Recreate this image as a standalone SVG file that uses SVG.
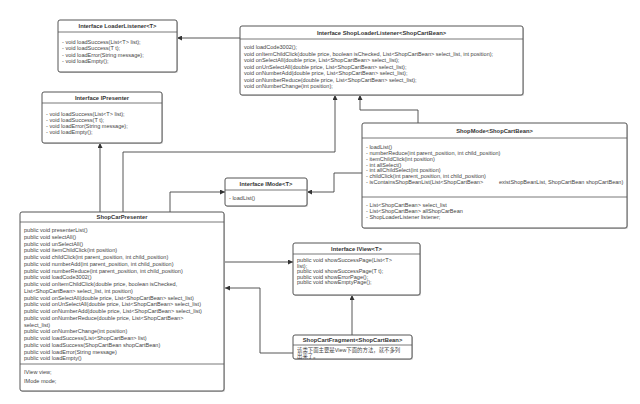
<svg xmlns="http://www.w3.org/2000/svg" width="640" height="404" viewBox="0 0 640 404">
<style>
.box{fill:#fff;stroke:#555;stroke-width:1}
.sh{fill:#ccc}
.div{stroke:#555;stroke-width:0.8}
.h{font-family:"Liberation Sans","Noto Sans CJK SC",sans-serif;font-size:5.8px;font-weight:bold;fill:#333;text-anchor:middle}
.t{font-family:"Liberation Sans","Noto Sans CJK SC",sans-serif;font-size:5.55px;fill:#444}
.c{fill:none;stroke:#444;stroke-width:0.9}
</style>
<defs>
<marker id="ar" viewBox="0 0 10 10" refX="10" refY="5" markerWidth="5" markerHeight="5" orient="auto" markerUnits="userSpaceOnUse">
<path d="M0,0 L10,5 L0,10 z" fill="#333"/>
</marker>
</defs>
<rect width="640" height="404" fill="#fff"/>

<g id="connectors">
<path class="c" d="M240,38 H177" marker-end="url(#ar)"/>
<path class="c" d="M100,212 V143" marker-end="url(#ar)"/>
<path class="c" d="M123,212 V152 H335 V95" marker-end="url(#ar)"/>
<path class="c" d="M418,123 V110 H360 V95" marker-end="url(#ar)"/>
<path class="c" d="M170,212 V192 H225" marker-end="url(#ar)"/>
<path class="c" d="M362,173 H334 V192 H307" marker-end="url(#ar)"/>
<path class="c" d="M224,262 H293" marker-end="url(#ar)"/>
<path class="c" d="M352,335 V295" marker-end="url(#ar)"/>
<path class="c" d="M293,353 H260 V288 H225" marker-end="url(#ar)"/>
</g>

<g id="LoaderListener">
<rect class="sh" x="59" y="21" width="119" height="52" rx="2"/>
<rect class="box" x="58" y="20" width="119" height="52" rx="2"/>
<line class="div" x1="58" y1="32" x2="177" y2="32"/>
<text class="h" x="117.5" y="28">Interface LoaderListener&lt;T&gt;</text>
<text class="t" x="62" y="44">- void loadSuccess(List&lt;T&gt; list);</text>
<text class="t" x="62" y="50.3">- void loadSuccess(T t);</text>
<text class="t" x="62" y="56.6">- void loadError(String message);</text>
<text class="t" x="62" y="63">- void loadEmpty();</text>
</g>

<g id="ShopLoaderListener">
<rect class="sh" x="241" y="27" width="283" height="69" rx="2"/>
<rect class="box" x="240" y="26" width="283" height="69" rx="2"/>
<line class="div" x1="240" y1="39" x2="523" y2="39"/>
<text class="h" x="381.5" y="34.5">Interface ShopLoaderListener&lt;ShopCartBean&gt;</text>
<text class="t" x="244" y="49">void loadCode3002();</text>
<text class="t" x="244" y="55.5">void onItemChildClick(double price, boolean isChecked, List&lt;ShopCartBean&gt; select_list, int position);</text>
<text class="t" x="244" y="62">void onSelectAll(double price, List&lt;ShopCartBean&gt; select_list);</text>
<text class="t" x="244" y="68.5">void onUnSelectAll(double price, List&lt;ShopCartBean&gt; select_list);</text>
<text class="t" x="244" y="75">void onNumberAdd(double price, List&lt;ShopCartBean&gt; select_list);</text>
<text class="t" x="244" y="81.5">void onNumberReduce(double price, List&lt;ShopCartBean&gt; select_list);</text>
<text class="t" x="244" y="88">void onNumberChange(int position);</text>
</g>

<g id="IPresenter">
<rect class="sh" x="43" y="93" width="120" height="51" rx="2"/>
<rect class="box" x="42" y="92" width="120" height="51" rx="2"/>
<line class="div" x1="42" y1="103" x2="162" y2="103"/>
<text class="h" x="102" y="99.5">Interface IPresenter</text>
<text class="t" x="46" y="116">- void loadSuccess(List&lt;T&gt; list);</text>
<text class="t" x="46" y="122">- void loadSuccess(T t);</text>
<text class="t" x="46" y="128">- void loadError(String message);</text>
<text class="t" x="46" y="134">- void loadEmpty();</text>
</g>

<g id="ShopMode">
<rect class="sh" x="363" y="124" width="265" height="105" rx="2"/>
<rect class="box" x="362" y="123" width="265" height="105" rx="2"/>
<line class="div" x1="362" y1="138" x2="627" y2="138"/>
<line class="div" x1="362" y1="197" x2="627" y2="197"/>
<text class="h" x="494.5" y="132.5">ShopMode&lt;ShopCartBean&gt;</text>
<text class="t" x="366" y="149">- loadList()</text>
<text class="t" x="366" y="155">- numberReduce(int parent_position, int child_position)</text>
<text class="t" x="366" y="160.8">- itemChildClick(int position)</text>
<text class="t" x="366" y="166.6">- int allSelect()</text>
<text class="t" x="366" y="172.4">- int allChildSelect(int position)</text>
<text class="t" x="366" y="178.2">- childClick(int parent_position, int child_position)</text>
<text class="t" x="366" y="184">- isContainsShopBeanList(List&lt;ShopCartBean&gt;</text>
<text class="t" x="499" y="184">existShopBeanList, ShopCartBean shopCartBean)</text>
<text class="t" x="366" y="207">- List&lt;ShopCartBean&gt; select_list</text>
<text class="t" x="366" y="213">- List&lt;ShopCartBean&gt; allShopCarBean</text>
<text class="t" x="366" y="219">- ShopLoaderListener listener;</text>
</g>

<g id="IMode">
<rect class="sh" x="226" y="179" width="82" height="28" rx="2"/>
<rect class="box" x="225" y="178" width="82" height="28" rx="2"/>
<line class="div" x1="225" y1="190" x2="307" y2="190"/>
<text class="h" x="266" y="186">Interface IMode&lt;T&gt;</text>
<text class="t" x="229" y="200">- loadList()</text>
</g>

<g id="ShopCarPresenter">
<rect class="sh" x="21" y="213" width="204" height="179" rx="2"/>
<rect class="box" x="20" y="212" width="204" height="179" rx="2"/>
<line class="div" x1="20" y1="222" x2="224" y2="222"/>
<line class="div" x1="20" y1="364" x2="224" y2="364"/>
<text class="h" x="122" y="219.2">ShopCarPresenter</text>
<text class="t" x="24" y="232">public void presenterList()</text>
<text class="t" x="24" y="238.75">public void selectAll()</text>
<text class="t" x="24" y="245.5">public void unSelectAll()</text>
<text class="t" x="24" y="252.25">public void itemChildClick(int position)</text>
<text class="t" x="24" y="259">public void childClick(int parent_position, int child_position)</text>
<text class="t" x="24" y="265.75">public void numberAdd(int parent_position, int child_position)</text>
<text class="t" x="24" y="272.5">public void numberReduce(int parent_position, int child_position)</text>
<text class="t" x="24" y="279.25">public void loadCode3002()</text>
<text class="t" x="24" y="286">public void onItemChildClick(double price, boolean isChecked,</text>
<text class="t" x="24" y="292.75">List&lt;ShopCartBean&gt; select_list, int position)</text>
<text class="t" x="24" y="299.5">public void onSelectAll(double price, List&lt;ShopCartBean&gt; select_list)</text>
<text class="t" x="24" y="306.25">public void onUnSelectAll(double price, List&lt;ShopCartBean&gt; select_list)</text>
<text class="t" x="24" y="313">public void onNumberAdd(double price, List&lt;ShopCartBean&gt; select_list)</text>
<text class="t" x="24" y="319.75">public void onNumberReduce(double price, List&lt;ShopCartBean&gt;</text>
<text class="t" x="24" y="326.5">select_list)</text>
<text class="t" x="24" y="333.25">public void onNumberChange(int position)</text>
<text class="t" x="24" y="340">public void loadSuccess(List&lt;ShopCartBean&gt; list)</text>
<text class="t" x="24" y="346.75">public void loadSuccess(ShopCartBean shopCartBean)</text>
<text class="t" x="24" y="353.5">public void loadError(String message)</text>
<text class="t" x="24" y="360.25">public void loadEmpty()</text>
<text class="t" x="24" y="374">IView view;</text>
<text class="t" x="24" y="383">IMode mode;</text>
</g>

<g id="IView">
<rect class="sh" x="294" y="244" width="127" height="52" rx="2"/>
<rect class="box" x="293" y="243" width="127" height="52" rx="2"/>
<line class="div" x1="293" y1="254" x2="420" y2="254"/>
<text class="h" x="356.5" y="250.5">Interface IView&lt;T&gt;</text>
<text class="t" x="297" y="262">public void showSuccessPage(List&lt;T&gt;</text>
<text class="t" x="297" y="267.5">list);</text>
<text class="t" x="297" y="273">public void showSuccessPage(T t);</text>
<text class="t" x="297" y="278.5">public void showErrorPage();</text>
<text class="t" x="297" y="284">public void showEmptyPage();</text>
</g>

<g id="ShopCartFragment">
<rect class="sh" x="294" y="336" width="119" height="24" rx="2"/>
<rect class="box" x="293" y="335" width="119" height="24" rx="2"/>
<line class="div" x1="293" y1="345" x2="412" y2="345"/>
<text class="h" x="352.5" y="342">ShopCartFragment&lt;ShopCartBean&gt;</text>
<text class="t" x="297" y="351.5" style="font-size:5.4px">该类下面主要是View下面的方法，就不多列</text>
<text class="t" x="297" y="357.5" style="font-size:5.4px">出来了。</text>
</g>
</svg>
